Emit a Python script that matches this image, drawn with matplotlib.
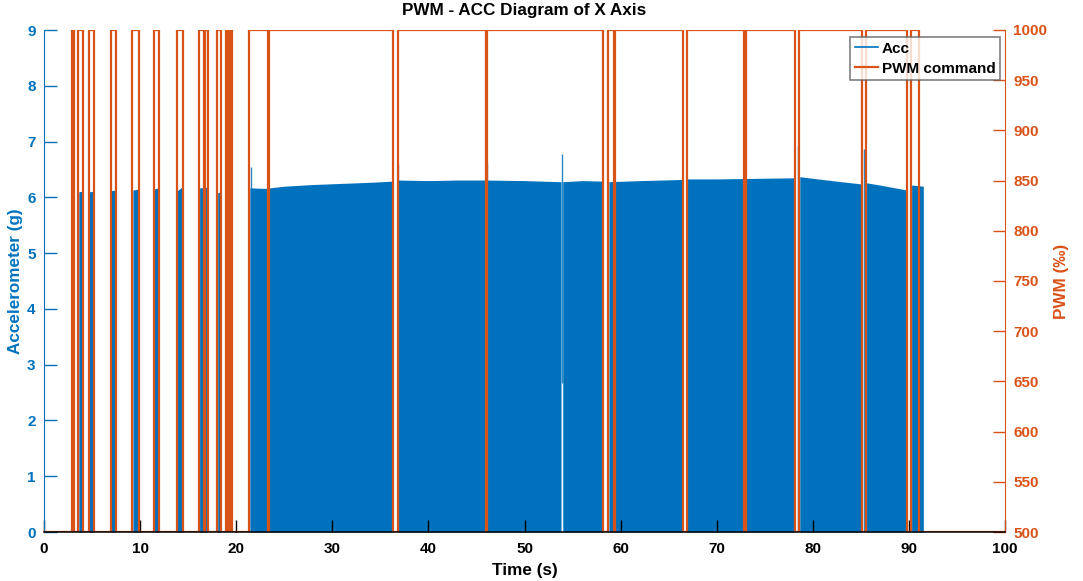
import numpy as np
import matplotlib
matplotlib.use("Agg")
import matplotlib.pyplot as plt

plt.rcParams["font.family"] = ["Liberation Sans", "DejaVu Sans"]
plt.rcParams["font.weight"] = "bold"

ACC_BLUE = "#0072BD"
PWM_ORANGE = "#D95319"

# PWM command: times (s) where the command switches high / low
pwm_on = [2.88, 3.05, 3.57, 4.68, 6.94, 9.19, 11.45, 13.84, 16.16, 16.72, 18.04,
          18.94, 19.12, 19.30, 19.47, 21.37, 23.42, 36.80, 46.10, 58.74, 59.45,
          66.87, 73.02, 78.60, 85.54, 90.25]
pwm_off = [2.98, 3.15, 4.03, 5.20, 7.49, 9.92, 11.97, 14.50, 16.62, 17.10, 18.42,
           19.05, 19.22, 19.40, 19.59, 23.32, 36.28, 45.98, 58.22, 59.32, 66.50,
           72.80, 78.15, 85.10, 89.85, 91.08]
pwm_low = 500
pwm_high = 1000

# Accelerometer envelope: one list of (time, peak g) knots per burst
acc_bursts = [
    ([3.62, 4.02], [6.10, 6.11]),
    ([4.72, 5.18], [6.10, 6.11]),
    ([6.98, 7.47], [6.12, 6.13]),
    ([9.25, 9.88], [6.13, 6.15]),
    ([11.49, 11.95], [6.15, 6.17]),
    ([13.88, 14.47], [6.12, 6.20]),
    ([16.19, 17.07], [6.17, 6.18]),
    ([18.07, 18.40], [6.08, 6.10]),
    ([21.42, 23.0, 25.0, 28.0, 31.0, 34.0, 36.24],
     [6.17, 6.16, 6.20, 6.23, 6.25, 6.27, 6.29]),
    ([36.84, 40.0, 43.0, 46.0, 50.0, 53.80],
     [6.31, 6.30, 6.31, 6.31, 6.30, 6.28]),
    ([53.98, 56.0, 58.18], [6.28, 6.30, 6.29]),
    ([58.78, 62.0, 66.46], [6.28, 6.30, 6.32]),
    ([66.91, 70.0, 74.0, 78.12], [6.33, 6.33, 6.34, 6.35]),
    ([78.64, 81.0, 83.0, 85.07], [6.37, 6.32, 6.28, 6.24]),
    ([85.58, 87.0, 89.82], [6.26, 6.22, 6.13]),
    ([90.28, 91.50], [6.22, 6.20]),
]
# short transient peaks (time, low g, high g)
spike_t = [21.50, 36.85, 46.05, 53.90, 78.50, 85.33]
spike_lo = [0.0, 0.0, 0.0, 2.67, 0.0, 0.0]
spike_hi = [6.55, 6.60, 6.62, 6.77, 6.92, 6.87]

fig = plt.figure(figsize=(10.83, 5.81), dpi=100)
ax = fig.add_axes([44 / 1083, 1 - 532 / 581, 961 / 1083, 502 / 581])
ax2 = ax.twinx()

# acceleration bursts drawn as filled envelopes
for bt, bv in acc_bursts:
    ax.fill_between(np.array(bt), 0, np.array(bv), color=ACC_BLUE, linewidth=0)
ax.vlines(spike_t, spike_lo, spike_hi, color=ACC_BLUE, linewidth=1.0, alpha=0.85)
acc_line, = ax.plot([], [], color=ACC_BLUE, linewidth=1.2, label="Acc")

# PWM square wave
edges = sorted([(t, 1) for t in pwm_on] + [(t, 0) for t in pwm_off])
px = [0.0]
py = [pwm_low]
for t, state in edges:
    px += [t, t]
    py += [py[-1], pwm_high if state else pwm_low]
px.append(100)
py.append(pwm_low)
pwm_line, = ax2.plot(px, py, color=PWM_ORANGE, linewidth=1.6, label="PWM command")

ax.set_xlim(0, 100)
ax.set_ylim(0, 9)
ax2.set_ylim(500, 1000)
ax.set_xticks(np.arange(0, 101, 10))
ax.set_yticks(np.arange(0, 10, 1))
ax2.set_yticks(np.arange(500, 1001, 50))

ax.tick_params(axis="x", direction="in", length=9, width=1, colors="black",
               labelsize=11, pad=7)
ax.tick_params(axis="y", direction="in", length=9, width=1, colors=ACC_BLUE,
               labelsize=11, pad=6)
ax2.tick_params(axis="y", direction="in", length=9, width=1, colors=PWM_ORANGE,
                labelsize=11, pad=6)
for a in (ax, ax2):
    a.spines["top"].set_visible(False)
ax.spines["left"].set_color(ACC_BLUE)
ax.spines["right"].set_visible(False)
ax.spines["bottom"].set_visible(False)
ax2.spines["left"].set_visible(False)
ax2.spines["right"].set_color(PWM_ORANGE)
# x axis line drawn by the top axes so it stays above both curves
ax2.spines["bottom"].set_color("black")
ax2.spines["bottom"].set_linewidth(1.1)
ax2.spines["bottom"].set_zorder(5)

ax.set_xlabel("Time (s)", fontsize=12.3, fontweight="bold", labelpad=5)
ax.set_ylabel("Accelerometer (g)", fontsize=12.3, fontweight="bold",
              color=ACC_BLUE, labelpad=3)
ax2.set_ylabel("PWM (\u2030)", fontsize=12.3, fontweight="bold",
               color=PWM_ORANGE, labelpad=5)
ax.set_title("PWM - ACC Diagram of X Axis", fontsize=12.3, fontweight="bold", pad=11)

leg = ax2.legend([acc_line, pwm_line], ["Acc", "PWM command"], loc="upper right",
                 bbox_to_anchor=((1000 - 44) / 961, 1 - 7 / 502), fontsize=11,
                 frameon=True, fancybox=False, handlelength=1.55, handletextpad=0.22,
                 borderpad=0.3, labelspacing=0.4, borderaxespad=0)
leg.get_frame().set_edgecolor("#606060")
leg.get_frame().set_linewidth(1.2)

fig.savefig("out.png", dpi=100)
